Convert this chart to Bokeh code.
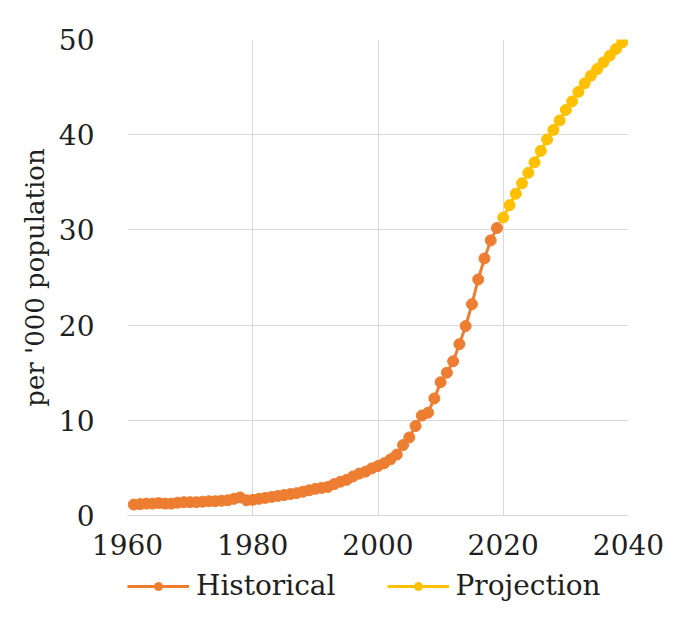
from bokeh.plotting import figure
from bokeh.layouts import column
from bokeh.models import Range1d, FixedTicker, Legend, LegendItem
from bokeh.embed import file_html
from bokeh.resources import INLINE

# ---- data ----
hist_years = list(range(1961, 2020))
hist_values = [
    1.15, 1.2, 1.25, 1.25, 1.3, 1.25, 1.25, 1.35, 1.4, 1.4,      # 1961-1970
    1.4, 1.45, 1.5, 1.5, 1.55, 1.6, 1.75, 1.9, 1.6, 1.65,        # 1971-1980
    1.75, 1.85, 1.95, 2.05, 2.15, 2.25, 2.35, 2.5, 2.65, 2.8,    # 1981-1990
    2.9, 3.0, 3.3, 3.55, 3.75, 4.1, 4.4, 4.6, 4.95, 5.2,         # 1991-2000
    5.5, 5.9, 6.4, 7.4, 8.2, 9.4, 10.5, 10.8, 12.3, 14.0,        # 2001-2010
    15.0, 16.2, 18.0, 19.9, 22.2, 24.8, 27.0, 28.9, 30.2,        # 2011-2019
]
proj_years = list(range(2020, 2040))
proj_values = [
    31.3, 32.6, 33.8, 34.9, 36.0, 37.1, 38.3, 39.5, 40.5, 41.5,
    42.6, 43.5, 44.5, 45.4, 46.2, 46.9, 47.6, 48.3, 49.0, 49.7,
]
x_ticks = [1960, 1980, 2000, 2020, 2040]
y_ticks = [0, 10, 20, 30, 40, 50]
y_label = "per '000 population"
series_labels = ["Historical", "Projection"]

ORANGE = "#ED7D31"
YELLOW = "#FFC000"
GRID = "#D9D9D9"
TEXT = "#1F1F1F"
FONT = "DejaVu Serif"
MSIZE = 11
LWIDTH = 3

p = figure(width=677, height=567, output_backend="svg", toolbar_location=None,
           x_range=Range1d(1960, 2040), y_range=Range1d(0, 50),
           min_border_left=127, min_border_right=49, min_border_top=39,
           min_border_bottom=52)
p.outline_line_color = None
p.background_fill_color = "white"
p.border_fill_color = "white"

# axes
p.xaxis.ticker = FixedTicker(ticks=x_ticks)
p.yaxis.ticker = FixedTicker(ticks=y_ticks)
p.xgrid.ticker = FixedTicker(ticks=x_ticks)
p.ygrid.ticker = FixedTicker(ticks=y_ticks)
for g in (p.xgrid, p.ygrid):
    g.grid_line_color = GRID
    g.grid_line_width = 1

for ax in (p.xaxis, p.yaxis):
    ax.major_tick_line_color = None
    ax.minor_tick_line_color = None
    ax.major_tick_out = 0
    ax.major_tick_in = 0
    ax.major_label_text_font = FONT
    ax.major_label_text_font_size = "28px"
    ax.major_label_text_color = TEXT

p.xaxis.axis_label = None
p.xaxis.axis_line_color = GRID
p.xaxis.axis_line_width = 1
p.xaxis.major_label_standoff = 18
p.yaxis.axis_line_color = None
p.yaxis.major_label_standoff = 33
p.yaxis.axis_label = y_label
p.yaxis.axis_label_text_font = FONT
p.yaxis.axis_label_text_font_size = "26px"
p.yaxis.axis_label_text_font_style = "normal"
p.yaxis.axis_label_text_color = TEXT
p.yaxis.axis_label_standoff = 6

# series
p.line(hist_years, hist_values, line_color=ORANGE, line_width=LWIDTH)
p.scatter(hist_years, hist_values, marker="circle", size=MSIZE,
          fill_color=ORANGE, line_color=ORANGE)
p.line(proj_years, proj_values, line_color=YELLOW, line_width=LWIDTH)
p.scatter(proj_years, proj_values, marker="circle", size=MSIZE,
          fill_color=YELLOW, line_color=YELLOW)

# legend strip below the chart: same series drawn out of view, only the
# legend entries are visible
lf = figure(width=677, height=50, output_backend="svg", toolbar_location=None,
            x_range=Range1d(0, 1), y_range=Range1d(0, 1),
            x_axis_type=None, y_axis_type=None,
            min_border_left=127, min_border_right=49, min_border_top=0,
            min_border_bottom=0)
lf.outline_line_color = None
lf.grid.visible = False
lf.border_fill_color = "white"
lh = lf.line(hist_years, hist_values, line_color=ORANGE, line_width=LWIDTH)
sh = lf.scatter(hist_years, hist_values, marker="circle", size=MSIZE,
                fill_color=ORANGE, line_color=ORANGE)
lp = lf.line(proj_years, proj_values, line_color=YELLOW, line_width=LWIDTH)
sp = lf.scatter(proj_years, proj_values, marker="circle", size=MSIZE,
                fill_color=YELLOW, line_color=YELLOW)

legend = Legend(items=[
    LegendItem(label=series_labels[0], renderers=[lh, sh]),
    LegendItem(label=series_labels[1], renderers=[lp, sp]),
], orientation="horizontal", location=(0, 15))
legend.glyph_width = 62
legend.glyph_height = 20
legend.label_standoff = 7
legend.spacing = 51
legend.padding = 0
legend.margin = 0
legend.border_line_color = None
legend.background_fill_alpha = 0
legend.label_text_font = FONT
legend.label_text_font_size = "28px"
legend.label_text_color = TEXT
lf.add_layout(legend, "center")

layout = column(p, lf, spacing=0)
open("out.html", "w").write(file_html(layout, INLINE))
